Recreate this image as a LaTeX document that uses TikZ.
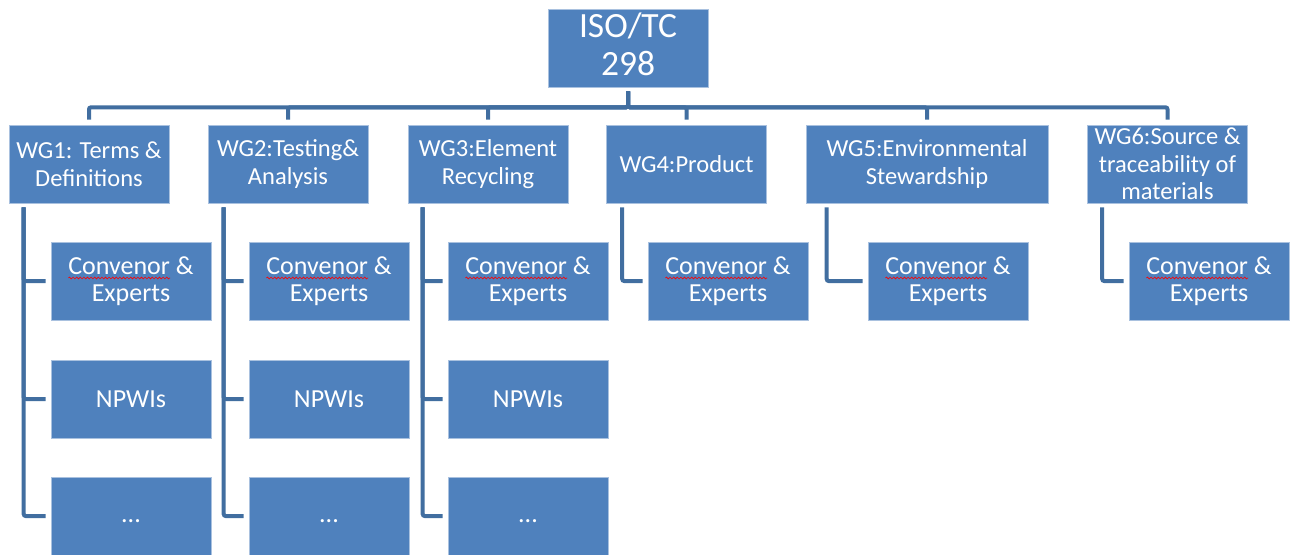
\documentclass[tikz,border=0pt]{standalone}
\usepackage{fontspec}
\setmainfont{Carlito}
\usetikzlibrary{calc,decorations.pathmorphing}
\definecolor{boxblue}{HTML}{4F81BD}
\definecolor{boxedge}{HTML}{A9C1DF}
\definecolor{connblue}{HTML}{416EA0}
\newcommand\wgfont{\fontsize{24.5}{27.5}\selectfont}
\newcommand\kidfont{\fontsize{26}{27.5}\selectfont}
\tikzset{
  box/.style={fill=boxblue, draw=boxedge, line width=0.6pt, text=white, align=center,
    inner sep=0pt, minimum width=160pt, minimum height=78pt, font=\wgfont},
  topbox/.style={box, font=\fontsize{35.5}{38}\selectfont},
  childbox/.style={box, font=\kidfont},
  conn/.style={draw=connblue, line width=4pt, rounded corners=2pt},
  squiggle/.style={draw=red, line width=0.6pt, decorate,
    decoration={snake, amplitude=0.9pt, segment length=3.6pt}},
}
\newlength\convW
\newlength\lineW
\newcommand\conv{Convenor \&\\Experts}
\newcommand\up[1]{\raisebox{3.5pt}[\height][\depth]{#1}}
\begin{document}
\settowidth\convW{\kidfont Convenor}%
\settowidth\lineW{\kidfont Convenor \&}%
\begin{tikzpicture}[x=1pt,y=-1pt]
\useasboundingbox (0,0) rectangle (1292,554);
\node[topbox] (top) at (628,48) {\up{ISO/TC}\\\up{298}};
\node[box] (wg1) at (89,164) {WG1: Terms \&\\Definitions};
\node[box] (wg2) at (288,164) {WG2:Testing\&\\Analysis};
\node[box] (wg3) at (488,164) {WG3:Element\\Recycling};
\node[box] (wg4) at (686.5,164) {WG4:Product};
\node[box, minimum width=242pt] (wg5) at (927,164) {WG5:Environmental\\Stewardship};
\node[box] (wg6) at (1167.5,164) {WG6:Source \&\\traceability of\\materials};
% children
\node[childbox] (c1a) at (131,281) {\conv};
\node[childbox] (c1b) at (131,399) {NPWIs};
\node[childbox] (c1c) at (131,516) {\vphantom{Ag}...};
\node[childbox] (c2a) at (329,281) {\conv};
\node[childbox] (c2b) at (329,399) {NPWIs};
\node[childbox] (c2c) at (329,516) {\vphantom{Ag}...};
\node[childbox] (c3a) at (528,281) {\conv};
\node[childbox] (c3b) at (528,399) {NPWIs};
\node[childbox] (c3c) at (528,516) {\vphantom{Ag}...};
\node[childbox] (c4a) at (728,281) {\conv};
\node[childbox] (c5a) at (948,281) {\conv};
\node[childbox] (c6a) at (1209,281) {\conv};
% spell-check squiggles
\foreach \c in {c1a,c2a,c3a,c4a,c5a,c6a}{
  \draw[squiggle] ($(\c.center)+(-0.5\lineW,3pt)$) -- ++(\convW,0pt);
}
% top connectors
\foreach \w in {wg1,wg2,wg3,wg4,wg5,wg6}{
  \draw[conn, shorten <=4pt, shorten >=5pt] (top.south) -- ++(0,20) -| (\w.north);
}
% child connectors
\foreach \w/\dx/\kids in {wg1/15/{c1a,c1b,c1c}, wg2/16/{c2a,c2b,c2c}, wg3/15/{c3a,c3b,c3c}, wg4/16/{c4a}, wg5/21/{c5a}, wg6/15/{c6a}}{
  \foreach \k in \kids {
    \draw[conn, shorten >=5pt] ([xshift=\dx pt, yshift=-4pt]\w.south west) |- (\k.west);
  }
}
\end{tikzpicture}
\end{document}
